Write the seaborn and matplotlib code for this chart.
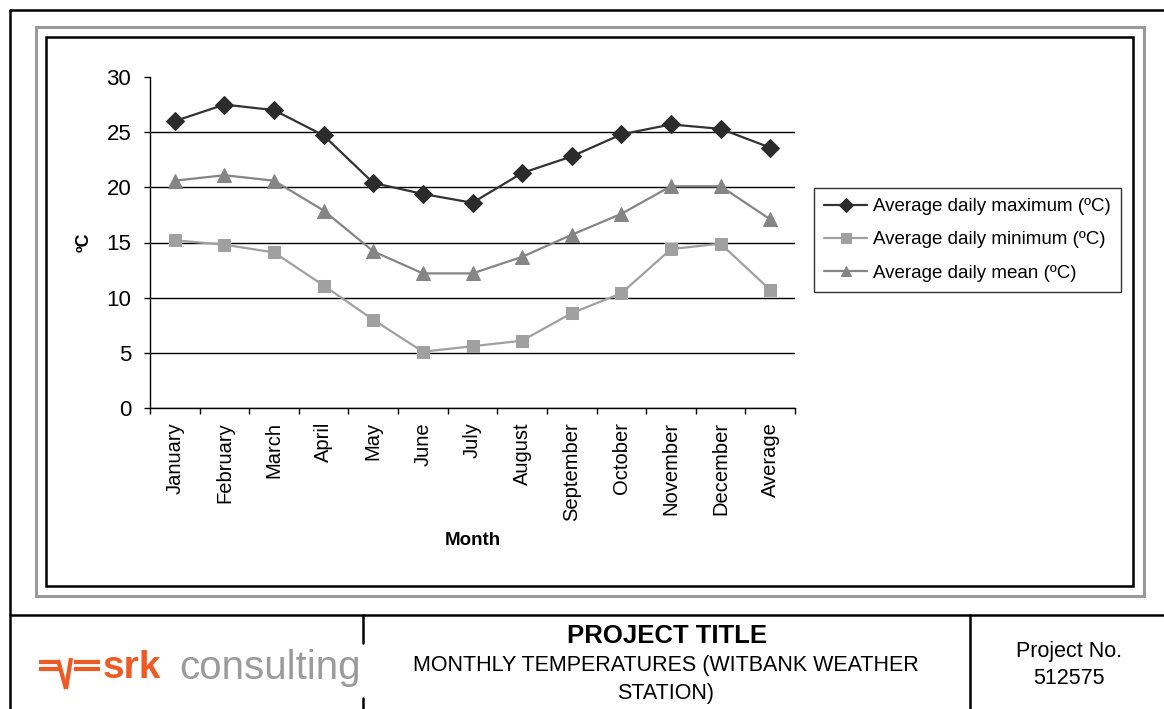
import matplotlib
matplotlib.use("Agg")
import matplotlib.pyplot as plt
import seaborn as sns
import pandas as pd
from matplotlib.patches import Rectangle
from matplotlib.lines import Line2D

months = ["January", "February", "March", "April", "May", "June", "July",
          "August", "September", "October", "November", "December", "Average"]
t_max = [26.0, 27.5, 27.0, 24.7, 20.4, 19.4, 18.6, 21.3, 22.8, 24.8, 25.7, 25.3, 23.6]
t_min = [15.2, 14.8, 14.1, 11.1, 8.0, 5.1, 5.6, 6.1, 8.6, 10.4, 14.4, 14.9, 10.7]
t_mean = [20.6, 21.1, 20.6, 17.9, 14.2, 12.2, 12.2, 13.7, 15.7, 17.6, 20.1, 20.1, 17.1]
series_names = ["Average daily maximum (ºC)", "Average daily minimum (ºC)",
                "Average daily mean (ºC)"]

W, H = 1164, 709


def fx(x):
    return x / W


def fy(y):
    return 1 - y / H


sns.set_style("white")
plt.rcParams["font.family"] = ["Liberation Sans", "DejaVu Sans"]
plt.rcParams.update({"text.color": "black", "axes.labelcolor": "black",
                     "xtick.color": "black", "ytick.color": "black"})

fig = plt.figure(figsize=(W / 100, H / 100), dpi=100)

# outer drawing frame
for (x0, y0, x1, y1) in [(10, 10, W, 10), (10, 10, 10, H), (10, 615, W, 615),
                         (970, 615, 970, H), (363, 615, 363, 643), (363, 698, 363, H)]:
    fig.add_artist(Line2D([fx(x0), fx(x1)], [fy(y0), fy(y1)], color="black", lw=1.8,
                          transform=fig.transFigure))

# chart area frames (grey + black)
fig.add_artist(Rectangle((fx(36), fy(596)), fx(1144 - 36), (596 - 27) / H, fill=False,
                         edgecolor="#9a9a9a", lw=2.2, transform=fig.transFigure))
fig.add_artist(Rectangle((fx(46), fy(586)), fx(1133 - 46), (586 - 37) / H, fill=False,
                         edgecolor="black", lw=1.8, transform=fig.transFigure))

ax = fig.add_axes([fx(150), fy(408), (795 - 150) / W, (408 - 77) / H])
idx = list(range(len(months)))
df = pd.DataFrame({"idx": idx, "max": t_max, "min": t_min, "mean": t_mean})

sns.lineplot(data=df, x="idx", y="max", ax=ax, color="#333333", lw=1.6, marker="D",
             markersize=9, markerfacecolor="#2b2b2b", markeredgecolor="#2b2b2b",
             label=series_names[0])
sns.lineplot(data=df, x="idx", y="min", ax=ax, color="#a0a0a0", lw=1.6, marker="s",
             markersize=8.5, markerfacecolor="#a0a0a0", markeredgecolor="#a0a0a0",
             label=series_names[1])
sns.lineplot(data=df, x="idx", y="mean", ax=ax, color="#858585", lw=1.6, marker="^",
             markersize=9.5, markerfacecolor="#858585", markeredgecolor="#858585",
             label=series_names[2])

ax.set_xlim(-0.5, len(months) - 0.5)
ax.set_ylim(0, 30)
ax.set_yticks(range(0, 31, 5))
ax.set_xticks(idx)
ax.set_xticklabels(months, rotation=90, fontsize=14.5, va="top")
ax.set_xticks([i - 0.5 for i in range(len(months) + 1)], minor=True)
ax.tick_params(axis="x", which="major", length=0, pad=10)
ax.tick_params(axis="x", which="minor", length=4.5, width=1, direction="out", bottom=True)
ax.tick_params(axis="y", length=4.5, width=1, direction="out", left=True, pad=9,
               labelsize=16)

ax.yaxis.grid(True, color="black", lw=1)
ax.get_ygridlines()[-1].set_visible(False)
ax.xaxis.grid(False)
sns.despine(ax=ax)
for s in ["left", "bottom"]:
    ax.spines[s].set_color("black")
    ax.spines[s].set_linewidth(1)

ax.set_xlabel("Month", fontsize=13.5, fontweight="bold")
ax.xaxis.set_label_coords(0.5, (408 - 532) / 331)
ax.set_ylabel("ºC", fontsize=13, fontweight="bold")
ax.yaxis.set_label_coords((93 - 150) / 645, 0.5)

leg = ax.legend(loc="upper left", bbox_to_anchor=(fx(814), fy(188)),
                bbox_transform=fig.transFigure, frameon=True, fancybox=False,
                edgecolor="black", fontsize=13.5, handlelength=2.3, handletextpad=0.3,
                borderpad=0.55, labelspacing=0.85, borderaxespad=0, markerscale=0.8)
leg.get_frame().set_linewidth(1)

# footer
narrow = ["Liberation Sans Narrow", "Liberation Sans"]
fig.text(fx(667), fy(636), "PROJECT TITLE", ha="center", va="center", fontsize=18.5,
         fontweight="bold", family=narrow)
fig.text(fx(666), fy(665), "MONTHLY TEMPERATURES (WITBANK WEATHER", ha="center",
         va="center", fontsize=15.5, family=narrow)
fig.text(fx(666), fy(693), "STATION)", ha="center", va="center", fontsize=15.5,
         family=narrow)
fig.text(fx(1069), fy(651), "Project No.", ha="center", va="center", fontsize=15.5,
         family=narrow)
fig.text(fx(1069), fy(679), "512575", ha="center", va="center", fontsize=15.5,
         family=narrow)

# logo
orange = "#ef5a24"
for (x0, y0, x1, y1) in [(39, 662, 60, 662), (39, 669, 60, 669), (74, 662, 100, 662),
                         (74, 669, 100, 669), (58, 660, 66, 689), (66, 689, 71, 658)]:
    fig.add_artist(Line2D([fx(x0), fx(x1)], [fy(y0), fy(y1)], color=orange, lw=3,
                          solid_capstyle="butt", transform=fig.transFigure))
fig.text(fx(103), fy(668), "srk", ha="left", va="center", fontsize=28, fontweight="bold",
         color=orange)
fig.text(fx(179), fy(668), "consulting", ha="left", va="center", fontsize=29,
         color="#9b9b9b")

fig.savefig("out.png", dpi=100)
